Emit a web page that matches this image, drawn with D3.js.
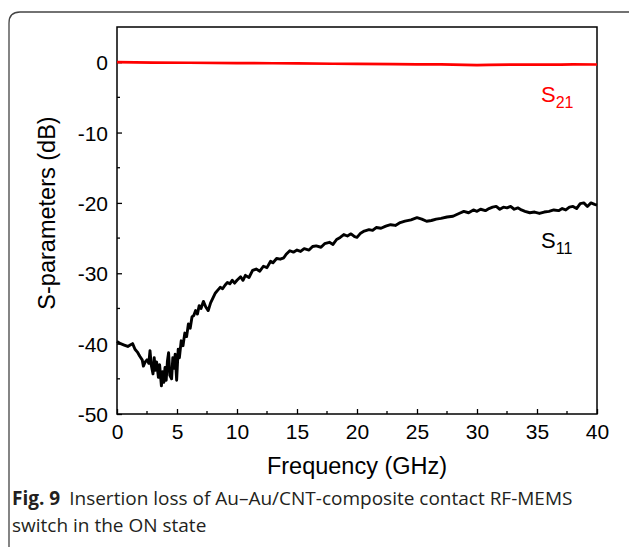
<!DOCTYPE html>
<html>
<head>
<meta charset="utf-8">
<script src="https://cdn.jsdelivr.net/npm/d3@7"></script>
<style>
  body { margin: 0; background: #fff; }
  svg { display: block; }
</style>
</head>
<body>
<svg id="chart" width="629" height="547"></svg>
<script>
const width = 629, height = 547;
const svg = d3.select("#chart");

// S11 trace (GHz, dB)
const s11Freq = [0, 0.3, 0.6, 0.9, 1.1, 1.3, 1.5, 1.7, 1.9, 2.1, 2.2, 2.35, 2.5, 2.65, 2.75, 2.85, 3.0, 3.1, 3.2, 3.3,
  3.45, 3.55, 3.7, 3.8, 3.9, 4.0, 4.1, 4.2, 4.3, 4.4, 4.55, 4.65, 4.75, 4.85, 4.97, 5.1, 5.2, 5.35, 5.5, 5.65,
  5.8, 5.95, 6.1, 6.25, 6.4, 6.55, 6.7, 6.85, 7.0, 7.2, 7.4, 7.6, 7.8, 8.0, 8.2, 8.4, 8.6, 8.8, 9.0, 9.2,
  9.4, 9.6, 9.8, 10.0, 10.3, 10.5, 10.7, 11.0, 11.3, 11.6, 11.9, 12.2, 12.5, 12.8, 13.0, 13.3, 13.6, 13.9, 14.1, 14.4,
  14.7, 15.0, 15.3, 15.6, 16.0, 16.3, 16.6, 17.0, 17.3, 17.7, 18.0, 18.3, 18.6, 18.9, 19.2, 19.5, 19.8, 20.0, 20.3, 20.6,
  21.0, 21.3, 21.6, 22.0, 22.4, 22.8, 23.2, 23.6, 24.0, 24.5, 25.0, 25.4, 25.8, 26.2, 26.6, 27.0, 27.5, 28.0, 28.5, 28.9,
  29.3, 29.7, 30.0, 30.3, 30.7, 31.0, 31.3, 31.6, 31.9, 32.2, 32.5, 32.8, 33.1, 33.4, 33.7, 34.0, 34.4, 34.8, 35.2, 35.6,
  36.0, 36.4, 36.8, 37.1, 37.4, 37.7, 38.0, 38.3, 38.6, 38.9, 39.2, 39.5, 39.8, 40.0];
const s11Val = [-39.7, -40.0, -40.2, -40.4, -40.2, -40.0, -40.8, -41.2, -41.8, -42.3, -43.2, -42.6, -42.3, -42.8, -41.0, -43.0, -44.3, -42.0, -43.8, -42.6,
  -44.8, -43.0, -46.0, -44.0, -45.5, -43.4, -45.2, -42.5, -41.3, -44.5, -45.0, -42.0, -43.5, -41.5, -45.2, -40.8, -42.0, -39.6, -40.3, -38.5,
  -39.0, -37.2, -37.8, -36.2, -36.0, -35.3, -35.8, -34.6, -35.0, -34.0, -34.8, -35.3, -34.2, -33.5, -32.8, -32.4, -32.0, -32.2, -31.7, -31.3,
  -31.5, -31.0, -31.4, -31.0, -30.5, -31.0, -30.3, -30.6, -29.6, -29.4, -29.7, -29.0, -29.2, -28.3, -28.5, -27.9, -28.0, -27.8, -27.3, -26.8,
  -27.0, -26.7, -26.9, -26.5, -26.7, -26.2, -26.1, -26.3, -25.8, -25.6, -25.9, -25.2, -24.9, -24.5, -24.7, -24.4, -24.8, -24.9, -24.3, -24.0,
  -23.8, -23.9, -23.5, -23.6, -23.3, -23.1, -23.2, -22.8, -22.6, -22.4, -22.1, -22.3, -22.6, -22.5, -22.3, -22.2, -22.0, -21.9, -21.5, -21.2,
  -21.4, -21.0, -21.2, -20.9, -21.1, -20.8, -20.6, -20.5, -20.9, -20.6, -20.7, -20.5, -20.9, -20.7, -21.0, -21.2, -21.4, -21.3, -21.5, -21.3,
  -21.2, -21.0, -21.1, -20.8, -21.0, -20.6, -20.5, -20.8, -20.1, -20.0, -20.5, -20.0, -20.2, -20.3];

// S21 trace
const s21Freq = [0, 3, 6, 10, 13, 15, 18, 20, 23, 25, 27, 28, 30, 31, 33, 35, 37, 38, 40];
const s21Val = [0, -0.05, -0.08, -0.12, -0.15, -0.18, -0.22, -0.25, -0.28, -0.3, -0.3, -0.35, -0.42, -0.38, -0.33, -0.36, -0.34, -0.3, -0.33];

const xTicks = [0, 5, 10, 15, 20, 25, 30, 35, 40];
const yTicks = [0, -10, -20, -30, -40, -50];

const margin = { left: 117, right: 597, top: 27, bottom: 414 };
const font = "Arial, 'Liberation Sans', sans-serif";

const x = d3.scaleLinear().domain([0, 40]).range([margin.left, margin.right]);
const y = d3.scaleLinear().domain([-50, 5]).range([margin.bottom, margin.top]);

// figure frame (rounded box running off the right/bottom edges)
svg.append("path")
    .attr("d", "M9,547 L9,23 Q9,12 20,12 L640,12")
    .attr("fill", "none")
    .attr("stroke", "#444")
    .attr("stroke-width", 1.3);

// plot box
svg.append("rect")
    .attr("x", margin.left)
    .attr("y", margin.top)
    .attr("width", margin.right - margin.left)
    .attr("height", margin.bottom - margin.top)
    .attr("fill", "none")
    .attr("stroke", "#000")
    .attr("stroke-width", 1.5);

// minor ticks
const g = svg.append("g");
d3.range(2.5, 40, 5).forEach(v => {
  g.append("line").attr("x1", x(v)).attr("x2", x(v))
    .attr("y1", margin.bottom).attr("y2", margin.bottom - 3)
    .attr("stroke", "#000").attr("stroke-width", 1.3);
});
d3.range(-45, 5, 10).forEach(v => {
  g.append("line").attr("y1", y(v)).attr("y2", y(v))
    .attr("x1", margin.left).attr("x2", margin.left + 3)
    .attr("stroke", "#000").attr("stroke-width", 1.3);
});

// major ticks + labels (plain hyphen minus like the original)
const fmt = d => String(d);
const xAxis = d3.axisBottom(x).tickValues(xTicks).tickSize(-5).tickPadding(10).tickFormat(fmt);
const yAxis = d3.axisLeft(y).tickValues(yTicks).tickSize(-5).tickPadding(9).tickFormat(fmt);

const gx = svg.append("g").attr("transform", `translate(0,${margin.bottom})`).call(xAxis);
const gy = svg.append("g").attr("transform", `translate(${margin.left},0)`).call(yAxis);
[gx, gy].forEach(a => {
  a.attr("font-family", null).attr("font-size", null);
  a.select(".domain").remove();
  a.selectAll(".tick line").attr("stroke", "#000").attr("stroke-width", 1.3);
  a.selectAll(".tick text")
    .attr("fill", "#000")
    .style("font-family", font)
    .style("font-size", "21px");
});
gx.selectAll(".tick text").attr("y", 9).attr("dy", "0.75em");
gy.selectAll(".tick text").attr("dy", "0.36em");

// traces
const line = d3.line().x(d => x(d[0])).y(d => y(d[1]));
svg.append("path")
    .datum(s21Freq.map((f, i) => [f, s21Val[i]]))
    .attr("d", line)
    .attr("fill", "none")
    .attr("stroke", "#ff0000")
    .attr("stroke-width", 2.7);
svg.append("path")
    .datum(s11Freq.map((f, i) => [f, s11Val[i]]))
    .attr("d", line)
    .attr("fill", "none")
    .attr("stroke", "#000")
    .attr("stroke-width", 2.9)
    .attr("stroke-linejoin", "round");

// series labels
function seriesLabel(px, py, sub, color) {
  const t = svg.append("text")
      .attr("x", px).attr("y", py)
      .attr("fill", color)
      .style("font-family", font)
      .style("font-size", "22px");
  t.append("tspan").text("S");
  t.append("tspan").attr("dy", 6).style("font-size", "16px").text(sub);
}
seriesLabel(541, 102, "21", "#ff0000");
seriesLabel(541, 248, "11", "#000");

// axis titles
svg.append("text")
    .attr("x", (margin.left + margin.right) / 2)
    .attr("y", 474)
    .attr("text-anchor", "middle")
    .style("font-family", font)
    .style("font-size", "23.5px")
    .text("Frequency (GHz)");
svg.append("text")
    .attr("transform", "translate(55,213) rotate(-90)")
    .attr("text-anchor", "middle")
    .style("font-family", font)
    .style("font-size", "23.5px")
    .text("S-parameters (dB)");

// caption
const cap = svg.append("text")
    .attr("x", 12).attr("y", 505)
    .attr("fill", "#231f20")
    .style("font-family", "'Open Sans', sans-serif")
    .style("font-size", "19px");
cap.append("tspan").style("font-weight", "bold").text("Fig. 9");
cap.append("tspan").attr("dx", 9).text("Insertion loss of Au–Au/CNT-composite contact RF-MEMS");
svg.append("text")
    .attr("x", 12).attr("y", 532)
    .attr("fill", "#231f20")
    .style("font-family", "'Open Sans', sans-serif")
    .style("font-size", "19px")
    .text("switch in the ON state");
</script>
</body>
</html>
